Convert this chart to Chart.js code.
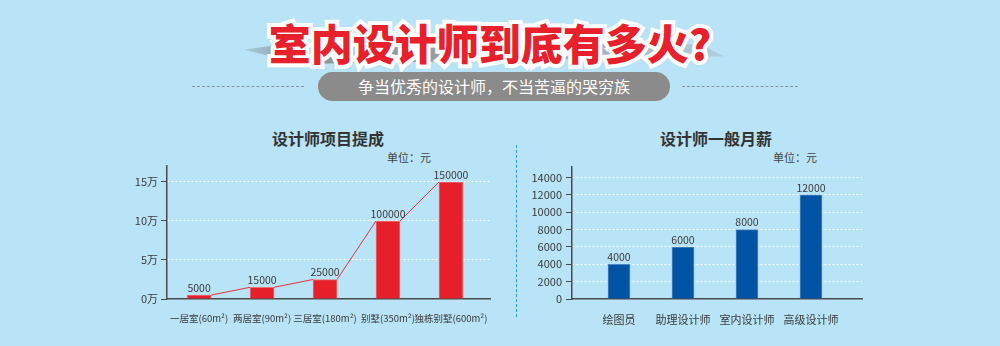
<!DOCTYPE html>
<html lang="zh">
<head>
<meta charset="UTF-8">
<title>室内设计师到底有多火</title>
<script src="https://cdn.jsdelivr.net/npm/chart.js"></script>
<style>
  html, body { margin: 0; padding: 0; }
  body {
    width: 1000px; height: 346px; overflow: hidden; position: relative;
    background: #b9e3f6;
    font-family: "Noto Sans CJK SC", "Noto Sans", sans-serif;
  }
  .abs { position: absolute; }
  .headline-shadow {
    left: 244px; top: 42px; width: 480px; height: 22px;
    background: linear-gradient(to right, rgba(120,130,140,0.25), #8a959d 12%, #9aa5ad 60%, rgba(160,170,180,0.35));
    clip-path: polygon(0 35%, 8% 10%, 95% 10%, 100% 65%, 12% 100%);
  }
  .headline {
    left: 0; width: 980px; top: 14px; text-align: center;
    font-size: 42px; font-weight: 900; line-height: 56px; white-space: nowrap;
  }
  .headline.outline { color: #fff; -webkit-text-stroke: 8px #fff; }
  .headline.fill { color: #e8202b; }
  .pill {
    left: 318px; top: 72px; width: 352px; height: 29px; border-radius: 15px;
    background: #8b8b8b; color: #fff; font-size: 16px; line-height: 29px; text-align: center;
  }
  .rule { top: 86px; height: 0; border-top: 1px dashed #8c9398; }
  .divider { left: 516px; top: 145px; height: 172px; width: 0; border-left: 1px dashed #2b9ce0; }
  .chart-title { top: 127px; font-size: 16px; font-weight: 700; color: #333; line-height: 22px; width: 200px; text-align: center; }
  .unit { top: 150px; font-size: 11px; color: #444; line-height: 14px; }
</style>
</head>
<body>
  <div class="abs headline-shadow"></div>
  <div class="abs headline outline">室内设计师到底有多火?</div>
  <div class="abs headline fill">室内设计师到底有多火?</div>

  <div class="abs rule" style="left:192px; width:112px;"></div>
  <div class="abs rule" style="left:682px; width:116px;"></div>
  <div class="abs pill">争当优秀的设计师，不当苦逼的哭穷族</div>

  <div class="abs chart-title" style="left:228px;">设计师项目提成</div>
  <div class="abs unit" style="left:387px;">单位：元</div>
  <div class="abs chart-title" style="left:616px;">设计师一般月薪</div>
  <div class="abs unit" style="left:773px;">单位：元</div>

  <div class="abs divider"></div>

  <canvas id="commissionChart" class="abs" width="380" height="180" style="left:120px; top:150px;"></canvas>
  <canvas id="salaryChart" class="abs" width="360" height="180" style="left:520px; top:150px;"></canvas>

<script>
// 项目提成（元）
const roomTypes = ['一居室(60m²)', '两居室(90m²)', '三居室(180m²)', '别墅(350m²)', '独栋别墅(600m²)'];
const commission = [5000, 15000, 25000, 100000, 150000];
const commissionTicks = [0, 50000, 100000, 150000];

// 一般月薪（元）
const jobTitles = ['绘图员', '助理设计师', '室内设计师', '高级设计师'];
const salary = [4000, 6000, 8000, 12000];
const salaryTicks = [0, 2000, 4000, 6000, 8000, 10000, 12000, 14000];

const FONT = '"Noto Sans CJK SC", "Noto Sans", sans-serif';
const AXIS = '#4a4a4a';
const TEXT = '#3a3a3a';

// value text above each bar
const valueLabels = {
  id: 'valueLabels',
  afterDatasetsDraw(chart) {
    const ctx = chart.ctx;
    const meta = chart.getDatasetMeta(0);
    const data = chart.data.datasets[0].data;
    ctx.save();
    ctx.font = '10.5px ' + FONT;
    ctx.fillStyle = TEXT;
    ctx.textAlign = 'center';
    ctx.textBaseline = 'bottom';
    meta.data.forEach((bar, i) => {
      ctx.fillText(String(data[i].y), bar.x, bar.y - 2);
    });
    ctx.restore();
  }
};

// thin line joining the top corners of neighbouring bars
const barConnector = {
  id: 'barConnector',
  afterDatasetsDraw(chart) {
    const ctx = chart.ctx;
    const bars = chart.getDatasetMeta(0).data;
    ctx.save();
    ctx.strokeStyle = '#e8323c';
    ctx.lineWidth = 1;
    ctx.beginPath();
    for (let i = 0; i < bars.length - 1; i++) {
      const a = bars[i], b = bars[i + 1];
      ctx.moveTo(a.x + a.width / 2, a.y);
      ctx.lineTo(b.x - b.width / 2, b.y);
    }
    ctx.stroke();
    ctx.restore();
  }
};

function barChart(id, o) {
  return new Chart(document.getElementById(id), {
    type: 'bar',
    data: {
      datasets: [{
        data: o.values.map((v, i) => ({ x: i, y: v })),
        backgroundColor: o.color,
        borderColor: o.edge,
        borderWidth: 1,
        borderSkipped: 'bottom',
        barThickness: o.barWidth
      }]
    },
    options: {
      responsive: false,
      animation: false,
      layout: { padding: { top: o.padTop, right: o.padRight, left: 0, bottom: 0 } },
      plugins: { legend: { display: false }, tooltip: { enabled: false } },
      scales: {
        x: {
          type: 'linear',
          offset: false,
          min: o.xMin,
          max: o.xMax,
          grid: { display: false, offset: false },
          border: { color: AXIS, width: 1.5 },
          afterBuildTicks: s => { s.ticks = o.labels.map((_, i) => ({ value: i })); },
          afterFit: s => { s.height = 31; },
          ticks: {
            autoSkip: false, maxRotation: 0, padding: 6,
            color: TEXT, font: { family: FONT, size: o.xFont },
            callback: v => o.labels[v]
          }
        },
        y: {
          min: 0,
          max: o.yMax,
          grid: {
            color: c => (c.tick && c.tick.value === 0 ? 'rgba(0,0,0,0)' : '#ffffff'),
            lineWidth: 1,
            tickColor: AXIS,
            tickLength: 6,
            tickBorderDash: []
          },
          border: { color: AXIS, width: 1.5, dash: [2, 2] },
          afterBuildTicks: s => { s.ticks = o.ticks.map(v => ({ value: v })); },
          afterFit: s => { s.width = o.yWidth; },
          ticks: {
            padding: o.yPad,
            color: TEXT, font: { family: FONT, size: 11 },
            callback: o.yFormat
          }
        }
      }
    },
    plugins: o.plugins
  });
}

barChart('commissionChart', {
  labels: roomTypes, values: commission, ticks: commissionTicks,
  color: '#e61f2a', edge: '#ef6f76', barWidth: 24,
  xMin: -0.51, xMax: 4.62, yMax: 170500,
  padTop: 16, padRight: 10, yWidth: 47, yPad: 3, xFont: 9.5,
  yFormat: v => (v / 10000) + '万',
  plugins: [barConnector, valueLabels]
});

barChart('salaryChart', {
  labels: jobTitles, values: salary, ticks: salaryTicks,
  color: '#0053a5', edge: '#4f88c6', barWidth: 22,
  xMin: -0.734, xMax: 3.797, yMax: 15220,
  padTop: 17, padRight: 18, yWidth: 52, yPad: 4, xFont: 11,
  yFormat: v => String(v),
  plugins: [valueLabels]
});
</script>
</body>
</html>
